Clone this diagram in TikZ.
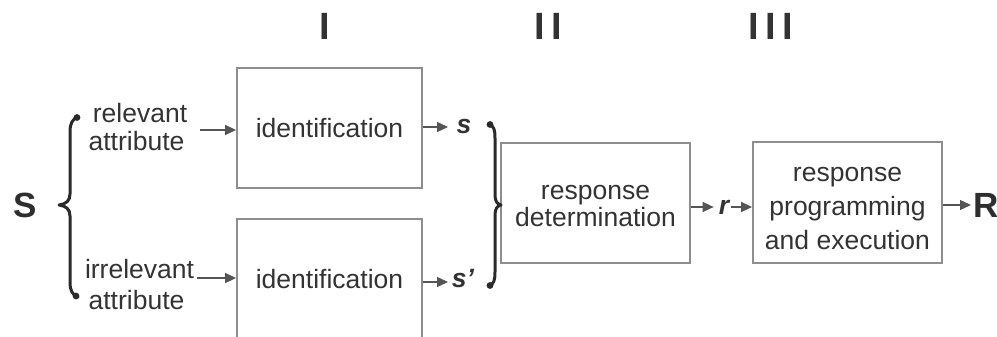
\documentclass[tikz,border=0pt]{standalone}
\usepackage{fontspec}
\setmainfont{Liberation Sans}
\usetikzlibrary{arrows.meta}
\definecolor{ink}{HTML}{333333}
\definecolor{frame}{HTML}{8E8E8E}
\definecolor{bracecol}{HTML}{2A2A2A}
\definecolor{wire}{HTML}{555555}

\begin{document}
\begin{tikzpicture}[x=1pt,y=-1pt,
  lbl/.style={font=\fontsize{26.5}{28}\selectfont, text=ink, inner sep=0pt, anchor=base},
  sym/.style={font=\fontsize{26.5}{28}\selectfont\bfseries\itshape, text=ink, inner sep=0pt, anchor=base},
  big/.style={font=\fontsize{35}{36}\selectfont\bfseries, text=ink!90!black, inner sep=0pt, anchor=base},
  numeral/.style={font=\fontsize{38}{40}\selectfont\bfseries, text=ink, inner sep=0pt, anchor=base},
  stage/.style={draw=frame, line width=1.8pt, inner sep=0pt},
  flow/.style={draw=wire, line width=1.4pt, -{Triangle[length=11pt,width=10pt]}},
  bracestroke/.style={draw=bracecol, line width=3pt, line cap=round, line join=round},
]
\useasboundingbox (0,0) rectangle (997,337);
\clip (0,0) rectangle (997,337);

% stage numbers
\node[numeral] (st1) at (325,40) {I};
\node[numeral] (st2) at (548,40) {I\hspace{6.5pt}I};
\node[numeral] (st3) at (771,40) {I\hspace{6.5pt}I\hspace{6.5pt}I};

% processing boxes
\node[stage, minimum width=185, minimum height=120] (id1) at (329.5,128) {};
\node[stage, minimum width=185, minimum height=120] (id2) at (329.5,279) {};
\node[stage, minimum width=189, minimum height=120] (det) at (595.5,203) {};
\node[stage, minimum width=189, minimum height=121] (prog) at (847.5,202.5) {};

% box texts
\node[lbl] (id1t) at (329.5,137) {identification};
\node[lbl] (id2t) at (329.5,288) {identification};
\node[lbl] (detA) at (595.5,199) {response};
\node[lbl] (detB) at (595.5,226) {determination};
\node[lbl] (progA) at (847.5,181) {response};
\node[lbl] (progB) at (847.5,215) {programming};
\node[lbl] (progC) at (847.5,249) {and execution};

% stimulus and its attributes
\node[big] (S) at (25.5,217) {S};
\node[lbl] (relA) at (140,122) {relevant};
\node[lbl] (relB) at (136.5,150) {attribute};
\node[lbl] (irrA) at (139.5,278) {irrelevant};
\node[lbl] (irrB) at (136.5,309) {attribute};

% codes and response
\node[sym] (s1) at (464,134) {s};
\node[sym] (s2) at (463,287) {s’};
\node[sym] (r) at (724,214) {r};
\node[big] (R) at (986,217) {R};

% input arrows
\coordinate (relOut) at (200,130);
\coordinate (irrOut) at (197,278);
\draw[flow] (relOut) -- (relOut -| id1.west);
\draw[flow] (irrOut) -- (irrOut -| id2.west);

% output arrows of the identification stages
\coordinate (sTop) at (448,127);
\coordinate (sBot) at (448,282);
\draw[flow] (id1.east |- sTop) -- (sTop);
\draw[flow] (id2.east |- sBot) -- (sBot);

% response chain
\coordinate (rmid) at (724,207);
\draw[flow] (det.east |- rmid) -- ([xshift=-5pt]r.west |- rmid);
\draw[flow] ([xshift=2pt]r.east |- rmid) -- (prog.west |- rmid);
\coordinate (Rmid) at (971,205);
\draw[flow] (prog.east |- Rmid) -- (Rmid);

% left brace grouping the two attributes
\draw[bracestroke] (78,117) .. controls (72,119) and (70,124) .. (70,132)
  -- (70,194) .. controls (70,201) and (66,204) .. (59,205)
  .. controls (66,206) and (70,209) .. (70,216)
  -- (70,282) .. controls (70,290) and (72,295) .. (78,297);
\fill[bracecol] (77,117.5) circle (3.4);
\fill[bracecol] (76,296) circle (3.4);

% right brace joining the two codes
\draw[bracestroke] (489,124) .. controls (494,126) and (495,130) .. (495,138)
  -- (495,195) .. controls (495,201) and (497,204) .. (501,205)
  .. controls (497,206) and (495,209) .. (495,215)
  -- (495,272) .. controls (495,280) and (494,284) .. (489,286);
\fill[bracecol] (490,124.5) circle (3.4);
\fill[bracecol] (490,285.5) circle (3.4);
\end{tikzpicture}
\end{document}
